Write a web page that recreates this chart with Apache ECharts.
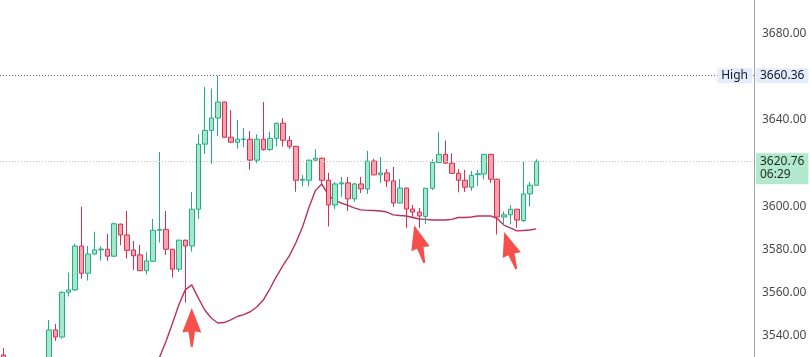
<!DOCTYPE html>
<html>
<head>
<meta charset="utf-8">
<script src="https://cdn.jsdelivr.net/npm/echarts@6/dist/echarts.min.js"></script>
<style>html,body{margin:0;padding:0;background:#fff;}#chart{width:811px;height:357px;}</style>
</head>
<body>
<div id="chart"></div>
<script>
const categories = [
'00:00','00:15','00:30','00:45','01:00','01:15','01:30','01:45','02:00','02:15','02:30','02:45',
'03:00','03:15','03:30','03:45','04:00','04:15','04:30','04:45','05:00','05:15','05:30','05:45',
'06:00','06:15','06:30','06:45','07:00','07:15','07:30','07:45','08:00','08:15','08:30','08:45',
'09:00','09:15','09:30','09:45','10:00','10:15','10:30','10:45','11:00','11:15','11:30','11:45',
'12:00','12:15','12:30','12:45','13:00','13:15','13:30','13:45','14:00','14:15','14:30','14:45',
'15:00','15:15','15:30','15:45','16:00','16:15','16:30','16:45','17:00','17:15','17:30','17:45',
'18:00','18:15','18:30','18:45','19:00','19:15','19:30','19:45','20:00','20:15','20:30','20:45',
'21:00','21:15','21:30','21:45','22:00','22:15','22:30','22:45','23:00','23:15','23:30','23:45',
'D2 00:00','D2 00:15','D2 00:30','D2 00:45','D2 01:00','D2 01:15','D2 01:30','D2 01:45',
'D2 02:00','D2 02:15','D2 02:30','D2 02:45','D2 03:00','D2 03:15','D2 03:30','D2 03:45',
'D2 04:00','D2 04:15','D2 04:30','D2 04:45'
];

const opens = [
3531.2,3525.5,3521.0,3515.5,3519.0,3514.0,3520.5,3524.0,3542.8,3539.5,
3560.2,3561.3,3581.6,3569.0,3577.9,3579.8,3580.1,3576.9,3591.7,3586.7,
3579.8,3577.5,3570.2,3574.5,3588.9,3589.3,3580.1,3570.9,3584.3,3581.6,
3598.6,3628.7,3635.1,3640.8,3648.2,3631.9,3629.6,3630.9,3631.0,3621.3,
3631.0,3626.2,3631.4,3638.4,3630.5,3627.7,3612.0,3612.0,3621.3,3622.2,
3612.0,3600.6,3610.3,3610.8,3603.4,3610.3,3608.0,3620.9,3614.5,3615.4,
3611.7,3601.5,3608.4,3598.7,3597.3,3595.3,3608.3,3620.2,3624.0,3619.9,
3615.2,3612.0,3608.8,3614.6,3614.9,3624.0,3612.5,3595.0,3596.0,3598.6,
3593.4,3605.7,3609.7
];
const closes = [
3526.0,3521.0,3515.5,3519.0,3514.0,3520.5,3524.0,3542.8,3539.5,3560.2,
3561.3,3581.6,3569.0,3577.9,3579.8,3580.2,3576.9,3591.9,3586.7,3579.6,
3577.1,3570.2,3574.7,3588.9,3589.3,3580.1,3570.9,3584.3,3581.6,3598.6,
3628.7,3635.1,3640.8,3648.2,3631.9,3629.6,3631.0,3631.1,3621.3,3631.0,
3626.2,3631.4,3638.4,3630.5,3627.7,3612.0,3612.5,3621.3,3622.2,3612.0,
3600.6,3610.3,3610.8,3603.4,3610.3,3608.0,3620.9,3614.5,3615.4,3611.7,
3601.5,3608.4,3598.7,3597.3,3595.5,3608.3,3620.2,3624.0,3619.9,3615.2,
3612.0,3608.8,3614.3,3615.0,3624.0,3612.5,3595.0,3596.0,3598.6,3593.6,
3605.7,3609.7,3620.76
];
const lows = [
3522.0,3517.0,3512.0,3511.0,3509.5,3512.0,3517.5,3521.5,3537.7,3538.8,
3558.2,3560.8,3566.5,3565.6,3577.5,3574.8,3574.8,3576.5,3582.0,3575.8,
3570.5,3570.0,3568.5,3574.3,3583.2,3577.5,3567.0,3569.7,3555.4,3579.0,
3594.1,3624.2,3619.7,3632.5,3631.7,3629.4,3626.6,3627.3,3616.9,3619.9,
3625.7,3625.6,3627.6,3627.6,3626.6,3606.7,3609.1,3609.1,3620.6,3609.8,
3590.6,3598.7,3604.3,3597.8,3602.0,3606.1,3605.7,3614.3,3610.8,3608.9,
3599.7,3601.3,3590.0,3594.6,3590.0,3591.8,3607.5,3620.0,3619.7,3615.0,
3606.4,3606.6,3607.1,3609.4,3612.4,3610.8,3586.9,3591.3,3591.6,3590.0,
3592.7,3599.9,3609.5
];
const highs = [
3534.4,3527.5,3524.0,3522.5,3521.5,3524.0,3528.0,3547.4,3545.5,3560.6,
3569.3,3582.6,3599.8,3581.6,3588.2,3581.3,3587.2,3592.4,3592.0,3597.8,
3583.9,3582.1,3578.7,3594.1,3625.1,3597.8,3580.3,3584.5,3584.5,3606.5,
3633.3,3655.2,3654.4,3660.36,3648.4,3644.5,3639.9,3636.1,3634.7,3633.3,
3648.2,3634.5,3638.6,3640.7,3632.4,3627.9,3614.5,3621.5,3626.4,3622.5,
3615.4,3611.2,3613.5,3613.5,3610.8,3613.5,3625.6,3621.9,3622.8,3617.2,
3618.2,3612.6,3608.6,3600.6,3599.2,3608.5,3621.7,3634.2,3630.4,3624.5,
3617.2,3616.8,3616.3,3616.8,3624.2,3624.2,3612.7,3597.6,3600.6,3598.8,
3620.5,3611.2,3621.7
];
const maValues = [
'-','-','-','-','-','-','-','-','-','-',
'-','-','-','-','-','-','-','-','-','-',
'-','-',3505.0,3522.4,3529.8,3537.2,3545.5,3554.3,3561.3,3563.6,
3557.6,3552.0,3548.3,3546.0,3546.2,3547.4,3549.0,3549.9,3551.2,3553.4,
3556.6,3561.7,3567.3,3572.4,3577.0,3583.0,3590.0,3599.2,3607.1,3610.3,
3605.2,3602.7,3601.5,3600.4,3599.2,3598.3,3598.1,3598.0,3597.8,3597.3,
3596.0,3595.7,3595.5,3594.8,3594.1,3593.9,3593.6,3593.6,3593.6,3593.9,
3594.8,3594.8,3595.0,3595.5,3595.5,3595.5,3594.3,3591.3,3590.0,3588.6,
3588.8,3589.0,3589.5
];
const highValue = 3660.36;
const lastValue = 3620.76;
const countdown = '06:29';
const arrowIndex = [29, 64, 78];
const arrowValue = [3543.9, 3582.5, 3579.5];
const arrowAngle = [0, 15, 18];

const FONT = 'Noto Sans';
const candleData = opens.map((o, i) => [o, closes[i], lows[i], highs[i]]);
const arrowPath = 'path://M10,0 L20,25 L13.5,24 L11,40 L9,40 L6.5,24 L0,25 Z';

const chart = echarts.init(document.getElementById('chart'), null, {renderer: 'canvas'});
chart.setOption({
  animation: false,
  backgroundColor: '#ffffff',
  grid: {left: 0, right: 57, top: -10, bottom: -22.2, containLabel: false, outerBoundsMode: 'none'},
  xAxis: {
    type: 'category', data: categories, boundaryGap: true, show: false
  },
  yAxis: {
    type: 'value', position: 'right', min: 3520, max: 3700, interval: 20,
    axisLine: {show: true, lineStyle: {color: '#a3a6ad', width: 1}},
    axisTick: {show: false},
    splitLine: {show: false},
    axisLabel: {
      margin: 8, color: '#4a4a4a', fontSize: 12, fontFamily: FONT,
      formatter: v => v.toFixed(2)
    }
  },
  series: [
    {
      type: 'line', data: maValues, symbol: 'none', silent: true, z: 1,
      lineStyle: {color: '#b8325c', width: 1.4},
      markLine: {
        silent: true, symbol: 'none', animation: false,
        data: [
          {
            yAxis: highValue,
            lineStyle: {color: '#6a6d74', type: [1, 2], width: 1},
            label: {
              show: true, position: 'insideEnd', distance: [2, 0],
              align: 'right', verticalAlign: 'middle',
              formatter: 'High', color: '#131722', fontSize: 12, fontFamily: FONT,
              backgroundColor: '#e3edfb', padding: [2, 4, 1, 4]
            }
          },
          {
            yAxis: highValue,
            lineStyle: {color: 'rgba(0,0,0,0)', width: 0},
            label: {
              show: true, position: 'end', distance: [2, 0],
              formatter: highValue.toFixed(2), color: '#131722', fontSize: 12, fontFamily: FONT,
              backgroundColor: '#e3edfb', padding: [2, 4, 1, 4]
            }
          },
          {
            yAxis: lastValue,
            lineStyle: {color: '#c4c4c4', type: [1, 2], width: 1},
            label: {
              show: true, position: 'insideEndBottom', distance: [-2, -8],
              align: 'left', verticalAlign: 'top',
              formatter: lastValue.toFixed(2) + '\n' + countdown,
              color: '#1c2b23', fontSize: 12, fontFamily: FONT, lineHeight: 13,
              backgroundColor: '#b2e9cd', padding: [2, 4, 3, 4]
            }
          }
        ]
      }
    },
    {
      type: 'candlestick', data: candleData, barWidth: 5, z: 2,
      itemStyle: {
        color: '#a6e8c9', color0: '#f6a4ad',
        borderColor: '#20ad88', borderColor0: '#de2b50', borderWidth: 1
      },
      markPoint: {
        silent: true, animation: false,
        symbol: arrowPath, symbolSize: [19, 39],
        itemStyle: {color: '#f64f4c'},
        label: {show: false},
        data: arrowIndex.map((x, i) => ({coord: [x, arrowValue[i]], symbolRotate: arrowAngle[i]}))
      }
    }
  ]
});
</script>
</body>
</html>
